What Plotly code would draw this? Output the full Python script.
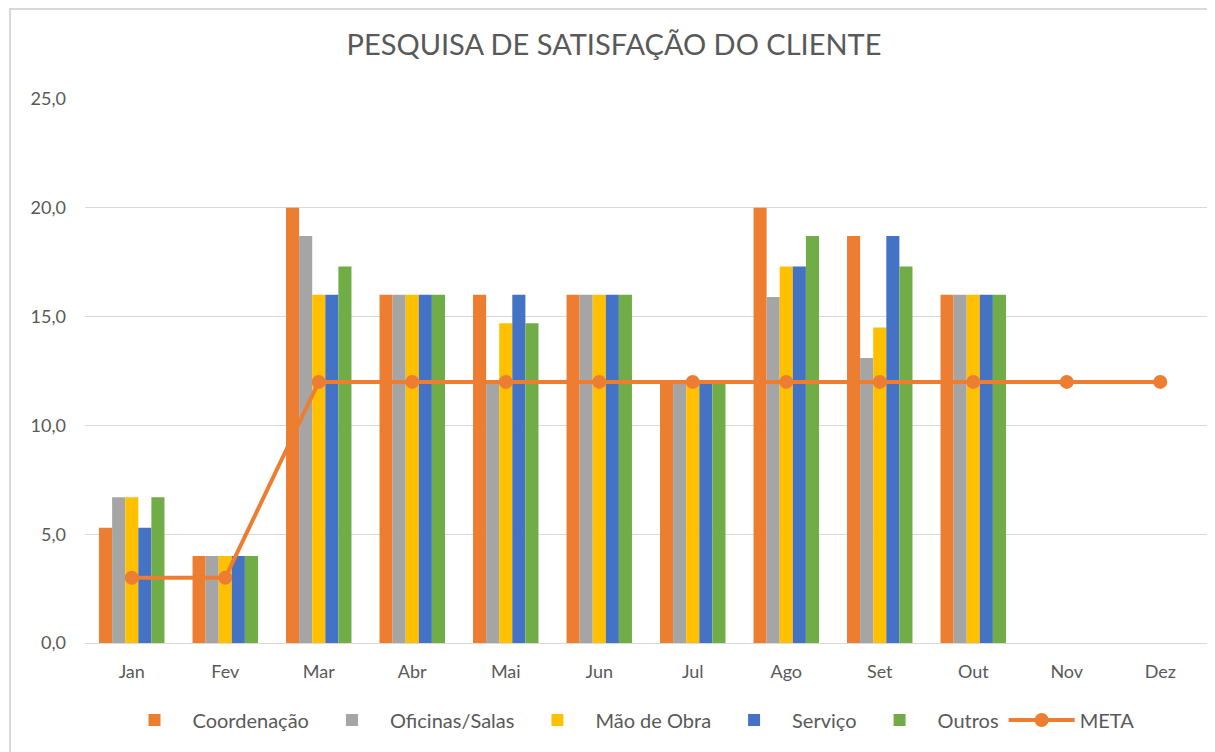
import plotly.graph_objects as go

meses = ["Jan", "Fev", "Mar", "Abr", "Mai", "Jun", "Jul", "Ago", "Set", "Out", "Nov", "Dez"]
coordenacao = [5.3, 4.0, 20.0, 16.0, 16.0, 16.0, 12.0, 20.0, 18.7, 16.0, None, None]
oficinas = [6.7, 4.0, 18.7, 16.0, 12.0, 16.0, 12.0, 15.9, 13.1, 16.0, None, None]
mao_obra = [6.7, 4.0, 16.0, 16.0, 14.7, 16.0, 12.0, 17.3, 14.5, 16.0, None, None]
servico = [5.3, 4.0, 16.0, 16.0, 16.0, 16.0, 12.0, 17.3, 18.7, 16.0, None, None]
outros = [6.7, 4.0, 17.3, 16.0, 14.7, 16.0, 12.0, 18.7, 17.3, 16.0, None, None]
meta = [3, 3, 12, 12, 12, 12, 12, 12, 12, 12, 12, 12]
y_ticks = [0, 5, 10, 15, 20, 25]
y_labels = ["0,0", "5,0", "10,0", "15,0", "20,0", "25,0"]

series = [
    ("Coordenação", coordenacao, "#ED7D31"),
    ("Oficinas/Salas", oficinas, "#A5A5A5"),
    ("Mão de Obra", mao_obra, "#FFC000"),
    ("Serviço", servico, "#4472C4"),
    ("Outros", outros, "#70AD47"),
]

FONT = "Lato, 'Open Sans', sans-serif"
GRAY = "#595959"

# page offset of 8px (body margin) compensated
L, T, R, B = 77, 91, 16, 117
PW = 1215 - L - R
PH = 752 - T - B

fig = go.Figure()
for name, vals, color in series:
    fig.add_trace(go.Bar(x=meses, y=vals, name=name, marker=dict(color=color, line=dict(width=0))))

fig.add_trace(go.Scatter(
    x=meses, y=meta, name="META", mode="lines+markers",
    line=dict(color="#ED7D31", width=4),
    marker=dict(color="#ED7D31", size=14),
))

fig.update_layout(
    width=1215, height=752,
    margin=dict(l=L, r=R, t=T, b=B, autoexpand=False),
    paper_bgcolor="white", plot_bgcolor="white",
    barmode="group", bargap=0.3, bargroupgap=0,
    title=dict(text="PESQUISA DE SATISFAÇÃO DO CLIENTE", x=(614 - 8 - L) / PW, xanchor="center", xref="paper",
               y=1 - 37 / 752, yanchor="middle",
               font=dict(family=FONT, size=29, color=GRAY)),
    font=dict(family=FONT, size=17, color=GRAY),
    showlegend=True,
    legend=dict(orientation="h", x=(628 - 8 - L) / PW, xanchor="center", y=(643 - 720) / PH, yanchor="middle",
                font=dict(family=FONT, size=20, color=GRAY), traceorder="normal",
                itemwidth=66),
    xaxis=dict(range=[-0.5, 11.5], showgrid=False, showline=True, linecolor="#D9D9D9", linewidth=1,
               ticks="", automargin=False, ticklabelstandoff=12,
               tickfont=dict(family=FONT, size=18, color=GRAY)),
    yaxis=dict(range=[0, 25], tickvals=y_ticks, ticktext=y_labels,
               showgrid=True, gridcolor="#D9D9D9", gridwidth=1, zeroline=False,
               showline=False, ticks="", ticklabelstandoff=18, automargin=False,
               tickfont=dict(family=FONT, size=18, color=GRAY)),
    shapes=[dict(type="rect", xref="paper", yref="paper",
                 x0=(2 - L) / PW, x1=1.05, y0=-0.3, y1=1 + (T - 1) / PH,
                 line=dict(color="#D9D9D9", width=2), layer="below")],
)

fig.write_html("out.html")
